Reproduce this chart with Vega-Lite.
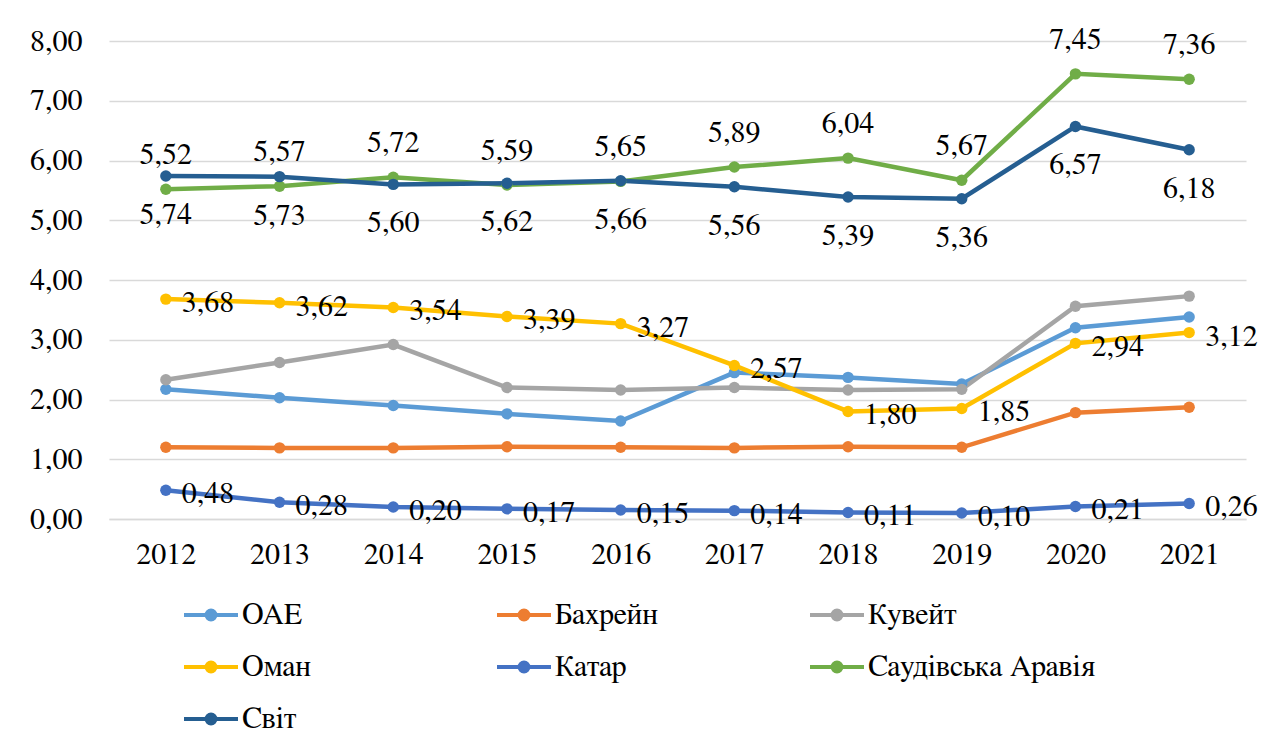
{
  "$schema": "https://vega.github.io/schema/vega-lite/v6.json",
  "width": 1137,
  "height": 478,
  "autosize": {"type": "none"},
  "padding": {"left": 109, "top": 41, "right": 38, "bottom": 228},
  "background": "white",
  "config": {
    "locale": {"number": {"decimal": ",", "thousands": " ", "grouping": [3], "currency": ["", ""]}},
    "font": "FreeSerif",
    "view": {"stroke": null},
    "axis": {"labelFont": "FreeSerif", "labelFontSize": 30, "labelColor": "#000000", "title": null},
    "legend": {"labelFont": "FreeSerif"}
  },
  "data": {
    "values": [
      {"year": "2012", "country": "ОАЕ", "value": 2.17},
      {"year": "2013", "country": "ОАЕ", "value": 2.03},
      {"year": "2014", "country": "ОАЕ", "value": 1.90},
      {"year": "2015", "country": "ОАЕ", "value": 1.76},
      {"year": "2016", "country": "ОАЕ", "value": 1.64},
      {"year": "2017", "country": "ОАЕ", "value": 2.45},
      {"year": "2018", "country": "ОАЕ", "value": 2.37},
      {"year": "2019", "country": "ОАЕ", "value": 2.26},
      {"year": "2020", "country": "ОАЕ", "value": 3.20},
      {"year": "2021", "country": "ОАЕ", "value": 3.38},
      {"year": "2012", "country": "Бахрейн", "value": 1.20},
      {"year": "2013", "country": "Бахрейн", "value": 1.19},
      {"year": "2014", "country": "Бахрейн", "value": 1.19},
      {"year": "2015", "country": "Бахрейн", "value": 1.21},
      {"year": "2016", "country": "Бахрейн", "value": 1.20},
      {"year": "2017", "country": "Бахрейн", "value": 1.19},
      {"year": "2018", "country": "Бахрейн", "value": 1.21},
      {"year": "2019", "country": "Бахрейн", "value": 1.20},
      {"year": "2020", "country": "Бахрейн", "value": 1.78},
      {"year": "2021", "country": "Бахрейн", "value": 1.87},
      {"year": "2012", "country": "Кувейт", "value": 2.33},
      {"year": "2013", "country": "Кувейт", "value": 2.62},
      {"year": "2014", "country": "Кувейт", "value": 2.92},
      {"year": "2015", "country": "Кувейт", "value": 2.20},
      {"year": "2016", "country": "Кувейт", "value": 2.16},
      {"year": "2017", "country": "Кувейт", "value": 2.20},
      {"year": "2018", "country": "Кувейт", "value": 2.16},
      {"year": "2019", "country": "Кувейт", "value": 2.17},
      {"year": "2020", "country": "Кувейт", "value": 3.56},
      {"year": "2021", "country": "Кувейт", "value": 3.73},
      {"year": "2012", "country": "Оман", "value": 3.68},
      {"year": "2013", "country": "Оман", "value": 3.62},
      {"year": "2014", "country": "Оман", "value": 3.54},
      {"year": "2015", "country": "Оман", "value": 3.39},
      {"year": "2016", "country": "Оман", "value": 3.27},
      {"year": "2017", "country": "Оман", "value": 2.57},
      {"year": "2018", "country": "Оман", "value": 1.80},
      {"year": "2019", "country": "Оман", "value": 1.85},
      {"year": "2020", "country": "Оман", "value": 2.94},
      {"year": "2021", "country": "Оман", "value": 3.12},
      {"year": "2012", "country": "Катар", "value": 0.48},
      {"year": "2013", "country": "Катар", "value": 0.28},
      {"year": "2014", "country": "Катар", "value": 0.20},
      {"year": "2015", "country": "Катар", "value": 0.17},
      {"year": "2016", "country": "Катар", "value": 0.15},
      {"year": "2017", "country": "Катар", "value": 0.14},
      {"year": "2018", "country": "Катар", "value": 0.11},
      {"year": "2019", "country": "Катар", "value": 0.10},
      {"year": "2020", "country": "Катар", "value": 0.21},
      {"year": "2021", "country": "Катар", "value": 0.26},
      {"year": "2012", "country": "Саудівська Аравія", "value": 5.52},
      {"year": "2013", "country": "Саудівська Аравія", "value": 5.57},
      {"year": "2014", "country": "Саудівська Аравія", "value": 5.72},
      {"year": "2015", "country": "Саудівська Аравія", "value": 5.59},
      {"year": "2016", "country": "Саудівська Аравія", "value": 5.65},
      {"year": "2017", "country": "Саудівська Аравія", "value": 5.89},
      {"year": "2018", "country": "Саудівська Аравія", "value": 6.04},
      {"year": "2019", "country": "Саудівська Аравія", "value": 5.67},
      {"year": "2020", "country": "Саудівська Аравія", "value": 7.45},
      {"year": "2021", "country": "Саудівська Аравія", "value": 7.36},
      {"year": "2012", "country": "Світ", "value": 5.74},
      {"year": "2013", "country": "Світ", "value": 5.73},
      {"year": "2014", "country": "Світ", "value": 5.60},
      {"year": "2015", "country": "Світ", "value": 5.62},
      {"year": "2016", "country": "Світ", "value": 5.66},
      {"year": "2017", "country": "Світ", "value": 5.56},
      {"year": "2018", "country": "Світ", "value": 5.39},
      {"year": "2019", "country": "Світ", "value": 5.36},
      {"year": "2020", "country": "Світ", "value": 6.57},
      {"year": "2021", "country": "Світ", "value": 6.18}
    ]
  },
  "encoding": {
    "x": {
      "field": "year", "type": "ordinal",
      "scale": {"type": "point", "padding": 0.5},
      "axis": {"labelAngle": 0, "domain": true, "domainColor": "#D9D9D9", "domainWidth": 1.5, "ticks": false, "grid": false, "labelPadding": 20}
    },
    "y": {
      "field": "value", "type": "quantitative",
      "scale": {"domain": [0, 8], "nice": false, "zero": true},
      "axis": {"values": [0, 1, 2, 3, 4, 5, 6, 7, 8], "format": ".2f", "domain": false, "ticks": false, "grid": true, "gridColor": "#D9D9D9", "gridWidth": 1.5, "labelPadding": 27}
    }
  },
  "layer": [
    {
      "mark": {"type": "line", "strokeWidth": 4.5},
      "encoding": {
        "color": {
          "field": "country", "type": "nominal",
          "scale": {
            "domain": ["ОАЕ", "Бахрейн", "Кувейт", "Оман", "Катар", "Саудівська Аравія", "Світ"],
            "range": ["#5B9BD5", "#ED7D31", "#A5A5A5", "#FFC000", "#4472C4", "#70AD47", "#255E91"]
          },
          "legend": {
            "title": null,
            "orient": "none",
            "legendX": 85,
            "legendY": 557,
            "direction": "horizontal",
            "columns": 3,
            "gridAlign": "all",
            "columnPadding": 19,
            "rowPadding": 20,
            "padding": 0,
            "labelFont": "FreeSerif",
            "labelFontSize": 30,
            "labelColor": "#000000",
            "labelLimit": 400,
            "labelOffset": 14,
            "symbolSize": 900,
            "symbolStrokeWidth": 4,
            "symbolType": "M-1.8,0H1.8M0.3,0A0.3,0.3,0,1,1,-0.3,0A0.3,0.3,0,1,1,0.3,0",
            "encode": {"symbols": {"update": {"fill": {"scale": "color", "field": "value"}, "stroke": {"scale": "color", "field": "value"}, "opacity": {"value": 1}}}}
          }
        }
      }
    },
    {
      "mark": {"type": "point", "filled": true, "size": 130, "opacity": 1},
      "encoding": {"color": {"field": "country", "type": "nominal"}}
    },
    {
      "transform": [{"filter": "datum.country === 'Оман' || datum.country === 'Катар'"}],
      "mark": {"type": "text", "align": "left", "baseline": "middle", "dx": 16, "dy": 4, "fontSize": 30, "font": "FreeSerif", "color": "#000000"},
      "encoding": {"text": {"field": "value", "type": "quantitative", "format": ".2f"}}
    },
    {
      "transform": [{"filter": "datum.country === 'Саудівська Аравія'"}],
      "mark": {"type": "text", "align": "center", "baseline": "middle", "dy": -34, "fontSize": 30, "font": "FreeSerif", "color": "#000000"},
      "encoding": {"text": {"field": "value", "type": "quantitative", "format": ".2f"}}
    },
    {
      "transform": [{"filter": "datum.country === 'Світ'"}],
      "mark": {"type": "text", "align": "center", "baseline": "middle", "dy": 39, "fontSize": 30, "font": "FreeSerif", "color": "#000000"},
      "encoding": {"text": {"field": "value", "type": "quantitative", "format": ".2f"}}
    }
  ]
}
